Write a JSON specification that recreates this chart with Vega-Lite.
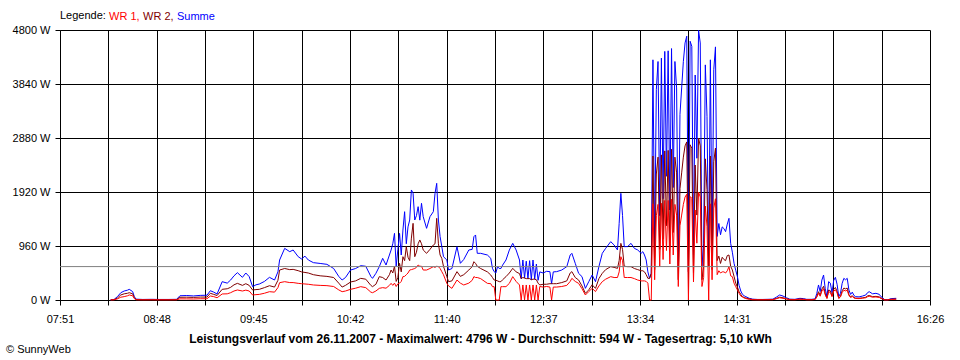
{
 "$schema": "https://vega.github.io/schema/vega-lite/v6.json",
 "width": 870,
 "height": 270,
 "autosize": {"type": "none"},
 "padding": {"left": 60, "top": 30, "right": 30, "bottom": 60},
 "background": "#ffffff",
 "config": {
  "font": "Liberation Sans",
  "view": {"stroke": null},
  "axis": {"labelFont": "Liberation Sans", "labelFontSize": 11, "labelColor": "#000000", "domainColor": "#000000", "tickColor": "#000000", "gridColor": "#000000", "gridOpacity": 1, "gridWidth": 1, "domainWidth": 1, "tickWidth": 1, "tickSize": 5, "zindex": 1, "labelFlush": false, "labelOverlap": false, "labelBound": false}
 },
 "title": {"text": "© SunnyWeb", "orient": "bottom", "anchor": "start", "frame": "group", "font": "Liberation Sans", "fontSize": 11, "fontWeight": "normal", "color": "#000000", "offset": 0, "dx": -54, "baseline": "top"},
 "layer": [
  {
   "data": {
    "format": {"parse": {"zeit": "date:'%H:%M'"}},
    "values": [
     {"zeit":"08:21","summe":5,"wr2":3,"wr1":2},
     {"zeit":"08:23","summe":10,"wr2":6,"wr1":4},
     {"zeit":"08:25","summe":60,"wr2":35,"wr1":20},
     {"zeit":"08:27","summe":130,"wr2":90,"wr1":50},
     {"zeit":"08:29","summe":160,"wr2":110,"wr1":60},
     {"zeit":"08:31","summe":175,"wr2":120,"wr1":75},
     {"zeit":"08:32","summe":190,"wr2":130,"wr1":90},
     {"zeit":"08:34","summe":150,"wr2":110,"wr1":75},
     {"zeit":"08:35","summe":60,"wr2":40,"wr1":25},
     {"zeit":"08:36","summe":15,"wr2":8,"wr1":5},
     {"zeit":"08:40","summe":10,"wr2":5,"wr1":3},
     {"zeit":"08:45","summe":12,"wr2":6,"wr1":4},
     {"zeit":"08:50","summe":10,"wr2":5,"wr1":3},
     {"zeit":"08:55","summe":10,"wr2":5,"wr1":3},
     {"zeit":"09:00","summe":12,"wr2":6,"wr1":4},
     {"zeit":"09:02","summe":75,"wr2":48,"wr1":20},
     {"zeit":"09:06","summe":80,"wr2":50,"wr1":20},
     {"zeit":"09:10","summe":72,"wr2":46,"wr1":18},
     {"zeit":"09:14","summe":82,"wr2":52,"wr1":22},
     {"zeit":"09:18","summe":85,"wr2":52,"wr1":22},
     {"zeit":"09:20","summe":165,"wr2":119,"wr1":71},
     {"zeit":"09:22","summe":140,"wr2":100,"wr1":60},
     {"zeit":"09:24","summe":107,"wr2":80,"wr1":40},
     {"zeit":"09:27","summe":326,"wr2":190,"wr1":107},
     {"zeit":"09:30","summe":300,"wr2":200,"wr1":110},
     {"zeit":"09:32","summe":355,"wr2":225,"wr1":130},
     {"zeit":"09:34","summe":430,"wr2":270,"wr1":160},
     {"zeit":"09:36","summe":486,"wr2":296,"wr1":178},
     {"zeit":"09:39","summe":403,"wr2":260,"wr1":160},
     {"zeit":"09:41","summe":480,"wr2":290,"wr1":175},
     {"zeit":"09:43","summe":415,"wr2":260,"wr1":160},
     {"zeit":"09:45","summe":237,"wr2":178,"wr1":89},
     {"zeit":"09:47","summe":270,"wr2":185,"wr1":95},
     {"zeit":"09:49","summe":284,"wr2":190,"wr1":100},
     {"zeit":"09:52","summe":330,"wr2":220,"wr1":120},
     {"zeit":"09:55","summe":403,"wr2":254,"wr1":148},
     {"zeit":"09:58","summe":355,"wr2":230,"wr1":140},
     {"zeit":"10:00","summe":500,"wr2":350,"wr1":220},
     {"zeit":"10:01","summe":711,"wr2":533,"wr1":308},
     {"zeit":"10:04","summe":918,"wr2":560,"wr1":326},
     {"zeit":"10:07","summe":859,"wr2":540,"wr1":310},
     {"zeit":"10:09","summe":889,"wr2":545,"wr1":310},
     {"zeit":"10:12","summe":770,"wr2":521,"wr1":296},
     {"zeit":"10:14","summe":730,"wr2":500,"wr1":290},
     {"zeit":"10:16","summe":780,"wr2":490,"wr1":285},
     {"zeit":"10:18","summe":711,"wr2":480,"wr1":280},
     {"zeit":"10:21","summe":664,"wr2":450,"wr1":267},
     {"zeit":"10:25","summe":650,"wr2":430,"wr1":260},
     {"zeit":"10:29","summe":634,"wr2":420,"wr1":255},
     {"zeit":"10:33","summe":560,"wr2":400,"wr1":240},
     {"zeit":"10:36","summe":420,"wr2":300,"wr1":180},
     {"zeit":"10:38","summe":355,"wr2":230,"wr1":148},
     {"zeit":"10:40","summe":400,"wr2":260,"wr1":160},
     {"zeit":"10:43","summe":533,"wr2":320,"wr1":190},
     {"zeit":"10:46","summe":560,"wr2":340,"wr1":210},
     {"zeit":"10:49","summe":610,"wr2":385,"wr1":237},
     {"zeit":"10:52","summe":600,"wr2":370,"wr1":220},
     {"zeit":"10:55","summe":420,"wr2":260,"wr1":140},
     {"zeit":"10:56","summe":385,"wr2":237,"wr1":130},
     {"zeit":"10:58","summe":474,"wr2":280,"wr1":160},
     {"zeit":"11:00","summe":593,"wr2":415,"wr1":207},
     {"zeit":"11:02","summe":741,"wr2":400,"wr1":220},
     {"zeit":"11:04","summe":622,"wr2":355,"wr1":210},
     {"zeit":"11:06","summe":800,"wr2":450,"wr1":260},
     {"zeit":"11:07","summe":889,"wr2":533,"wr1":296},
     {"zeit":"11:08","summe":1000,"wr2":480,"wr1":260},
     {"zeit":"11:09","summe":1185,"wr2":600,"wr1":300},
     {"zeit":"11:10","summe":600,"wr2":330,"wr1":240},
     {"zeit":"11:11","summe":900,"wr2":400,"wr1":288},
     {"zeit":"11:12","summe":1185,"wr2":652,"wr1":300},
     {"zeit":"11:13","summe":800,"wr2":500,"wr1":330},
     {"zeit":"11:14","summe":1244,"wr2":770,"wr1":415},
     {"zeit":"11:15","summe":1570,"wr2":700,"wr1":420},
     {"zeit":"11:16","summe":1000,"wr2":948,"wr1":450},
     {"zeit":"11:17","summe":1300,"wr2":760,"wr1":480},
     {"zeit":"11:18","summe":1422,"wr2":700,"wr1":533},
     {"zeit":"11:19","summe":1956,"wr2":1100,"wr1":540},
     {"zeit":"11:20","summe":1900,"wr2":1363,"wr1":550},
     {"zeit":"11:21","summe":1422,"wr2":770,"wr1":560},
     {"zeit":"11:22","summe":1500,"wr2":850,"wr1":580},
     {"zeit":"11:23","summe":1659,"wr2":1000,"wr1":622},
     {"zeit":"11:24","summe":1420,"wr2":1067,"wr1":600},
     {"zeit":"11:25","summe":1719,"wr2":1000,"wr1":600},
     {"zeit":"11:26","summe":1481,"wr2":889,"wr1":533},
     {"zeit":"11:28","summe":1274,"wr2":830,"wr1":533},
     {"zeit":"11:30","summe":1481,"wr2":900,"wr1":560},
     {"zeit":"11:32","summe":1570,"wr2":978,"wr1":593},
     {"zeit":"11:33","summe":1896,"wr2":1000,"wr1":580},
     {"zeit":"11:34","summe":2074,"wr2":1452,"wr1":600},
     {"zeit":"11:35","summe":1422,"wr2":1000,"wr1":593},
     {"zeit":"11:36","summe":1126,"wr2":800,"wr1":560},
     {"zeit":"11:37","summe":950,"wr2":741,"wr1":504},
     {"zeit":"11:38","summe":770,"wr2":600,"wr1":450},
     {"zeit":"11:40","summe":711,"wr2":415,"wr1":296},
     {"zeit":"11:41","summe":533,"wr2":326,"wr1":250},
     {"zeit":"11:43","summe":560,"wr2":340,"wr1":207},
     {"zeit":"11:46","summe":948,"wr2":504,"wr1":355},
     {"zeit":"11:48","summe":652,"wr2":420,"wr1":300},
     {"zeit":"11:50","summe":720,"wr2":450,"wr1":267},
     {"zeit":"11:53","summe":889,"wr2":533,"wr1":300},
     {"zeit":"11:55","summe":900,"wr2":593,"wr1":350},
     {"zeit":"11:56","summe":1126,"wr2":681,"wr1":415},
     {"zeit":"11:57","summe":1156,"wr2":650,"wr1":400},
     {"zeit":"11:58","summe":830,"wr2":600,"wr1":400},
     {"zeit":"12:00","summe":830,"wr2":560,"wr1":380},
     {"zeit":"12:04","summe":800,"wr2":500,"wr1":296},
     {"zeit":"12:06","summe":741,"wr2":444,"wr1":290},
     {"zeit":"12:07","summe":563,"wr2":400,"wr1":237},
     {"zeit":"12:08","summe":504,"wr2":355,"wr1":237},
     {"zeit":"12:09","summe":480,"wr2":350,"wr1":0},
     {"zeit":"12:10","summe":593,"wr2":340,"wr1":0},
     {"zeit":"12:11","summe":560,"wr2":326,"wr1":0},
     {"zeit":"12:12","summe":560,"wr2":326,"wr1":237},
     {"zeit":"12:13","summe":620,"wr2":360,"wr1":237},
     {"zeit":"12:15","summe":711,"wr2":415,"wr1":237},
     {"zeit":"12:17","summe":889,"wr2":480,"wr1":296},
     {"zeit":"12:19","summe":1007,"wr2":563,"wr1":415},
     {"zeit":"12:21","summe":889,"wr2":500,"wr1":330},
     {"zeit":"12:23","summe":711,"wr2":470,"wr1":267},
     {"zeit":"12:24","summe":380,"wr2":380,"wr1":0},
     {"zeit":"12:25","summe":711,"wr2":400,"wr1":267},
     {"zeit":"12:26","summe":390,"wr2":390,"wr1":0},
     {"zeit":"12:27","summe":690,"wr2":380,"wr1":267},
     {"zeit":"12:28","summe":380,"wr2":380,"wr1":0},
     {"zeit":"12:29","summe":700,"wr2":380,"wr1":267},
     {"zeit":"12:30","summe":360,"wr2":360,"wr1":0},
     {"zeit":"12:31","summe":711,"wr2":370,"wr1":267},
     {"zeit":"12:32","summe":370,"wr2":370,"wr1":0},
     {"zeit":"12:33","summe":640,"wr2":360,"wr1":267},
     {"zeit":"12:34","summe":350,"wr2":300,"wr1":0},
     {"zeit":"12:35","summe":500,"wr2":267,"wr1":240},
     {"zeit":"12:37","summe":480,"wr2":280,"wr1":230},
     {"zeit":"12:39","summe":510,"wr2":280,"wr1":240},
     {"zeit":"12:41","summe":504,"wr2":290,"wr1":230},
     {"zeit":"12:42","summe":290,"wr2":290,"wr1":0},
     {"zeit":"12:43","summe":500,"wr2":290,"wr1":230},
     {"zeit":"12:45","summe":504,"wr2":290,"wr1":230},
     {"zeit":"12:48","summe":533,"wr2":310,"wr1":240},
     {"zeit":"12:51","summe":593,"wr2":340,"wr1":260},
     {"zeit":"12:53","summe":800,"wr2":480,"wr1":330},
     {"zeit":"12:54","summe":830,"wr2":504,"wr1":385},
     {"zeit":"12:56","summe":652,"wr2":400,"wr1":330},
     {"zeit":"12:58","summe":474,"wr2":355,"wr1":296},
     {"zeit":"13:00","summe":415,"wr2":250,"wr1":200},
     {"zeit":"13:02","summe":207,"wr2":119,"wr1":89},
     {"zeit":"13:04","summe":326,"wr2":180,"wr1":150},
     {"zeit":"13:06","summe":444,"wr2":270,"wr1":207},
     {"zeit":"13:08","summe":326,"wr2":207,"wr1":150},
     {"zeit":"13:10","summe":593,"wr2":380,"wr1":250},
     {"zeit":"13:12","summe":830,"wr2":474,"wr1":326},
     {"zeit":"13:14","summe":918,"wr2":540,"wr1":370},
     {"zeit":"13:17","summe":1037,"wr2":593,"wr1":415},
     {"zeit":"13:19","summe":978,"wr2":580,"wr1":400},
     {"zeit":"13:21","summe":889,"wr2":563,"wr1":400},
     {"zeit":"13:22","summe":1363,"wr2":700,"wr1":500},
     {"zeit":"13:23","summe":1896,"wr2":1007,"wr1":770},
     {"zeit":"13:24","summe":1500,"wr2":900,"wr1":700},
     {"zeit":"13:25","summe":948,"wr2":600,"wr1":400},
     {"zeit":"13:27","summe":950,"wr2":593,"wr1":400},
     {"zeit":"13:29","summe":1007,"wr2":593,"wr1":400},
     {"zeit":"13:31","summe":918,"wr2":560,"wr1":380},
     {"zeit":"13:33","summe":889,"wr2":540,"wr1":355},
     {"zeit":"13:35","summe":830,"wr2":520,"wr1":340},
     {"zeit":"13:36","summe":859,"wr2":520,"wr1":340},
     {"zeit":"13:37","summe":800,"wr2":500,"wr1":340},
     {"zeit":"13:38","summe":711,"wr2":450,"wr1":330},
     {"zeit":"13:39","summe":500,"wr2":385,"wr1":300},
     {"zeit":"13:40","summe":385,"wr2":385,"wr1":0},
     {"zeit":"13:41","summe":474,"wr2":474,"wr1":0},
     {"zeit":"13:42","summe":4270,"wr2":2560,"wr1":1710},
     {"zeit":"13:43","summe":900,"wr2":540,"wr1":360},
     {"zeit":"13:44","summe":3740,"wr2":2240,"wr1":1500},
     {"zeit":"13:45","summe":4240,"wr2":2540,"wr1":1700},
     {"zeit":"13:46","summe":1500,"wr2":900,"wr1":600},
     {"zeit":"13:47","summe":4300,"wr2":2580,"wr1":1720},
     {"zeit":"13:48","summe":1800,"wr2":1080,"wr1":720},
     {"zeit":"13:49","summe":4420,"wr2":2650,"wr1":1770},
     {"zeit":"13:50","summe":2200,"wr2":1320,"wr1":880},
     {"zeit":"13:51","summe":4430,"wr2":2660,"wr1":1770},
     {"zeit":"13:52","summe":1600,"wr2":960,"wr1":640},
     {"zeit":"13:53","summe":4470,"wr2":2680,"wr1":1790},
     {"zeit":"13:54","summe":2000,"wr2":1200,"wr1":800},
     {"zeit":"13:55","summe":4240,"wr2":2540,"wr1":1700},
     {"zeit":"13:56","summe":3770,"wr2":2260,"wr1":1510},
     {"zeit":"13:57","summe":600,"wr2":360,"wr1":240},
     {"zeit":"13:58","summe":3300,"wr2":1980,"wr1":1320},
     {"zeit":"13:59","summe":3770,"wr2":2260,"wr1":1510},
     {"zeit":"14:00","summe":4240,"wr2":2540,"wr1":1700},
     {"zeit":"14:01","summe":4570,"wr2":2740,"wr1":1830},
     {"zeit":"14:02","summe":4690,"wr2":2810,"wr1":1880},
     {"zeit":"14:03","summe":500,"wr2":500,"wr1":0},
     {"zeit":"14:04","summe":4600,"wr2":2760,"wr1":1840},
     {"zeit":"14:05","summe":4510,"wr2":2700,"wr1":1810},
     {"zeit":"14:06","summe":800,"wr2":480,"wr1":320},
     {"zeit":"14:07","summe":4000,"wr2":2400,"wr1":1600},
     {"zeit":"14:08","summe":2520,"wr2":1510,"wr1":1010},
     {"zeit":"14:09","summe":4796,"wr2":2880,"wr1":1916},
     {"zeit":"14:10","summe":4570,"wr2":2740,"wr1":1830},
     {"zeit":"14:11","summe":600,"wr2":360,"wr1":240},
     {"zeit":"14:12","summe":1000,"wr2":600,"wr1":400},
     {"zeit":"14:13","summe":4180,"wr2":2510,"wr1":1670},
     {"zeit":"14:14","summe":3265,"wr2":1960,"wr1":1305},
     {"zeit":"14:15","summe":600,"wr2":600,"wr1":0},
     {"zeit":"14:16","summe":4270,"wr2":2560,"wr1":1710},
     {"zeit":"14:17","summe":900,"wr2":540,"wr1":360},
     {"zeit":"14:18","summe":4094,"wr2":2460,"wr1":1634},
     {"zeit":"14:19","summe":4500,"wr2":2700,"wr1":1800},
     {"zeit":"14:20","summe":1130,"wr2":700,"wr1":450},
     {"zeit":"14:21","summe":1360,"wr2":780,"wr1":520},
     {"zeit":"14:22","summe":1160,"wr2":650,"wr1":480},
     {"zeit":"14:23","summe":1300,"wr2":760,"wr1":500},
     {"zeit":"14:24","summe":1270,"wr2":720,"wr1":500},
     {"zeit":"14:25","summe":1215,"wr2":700,"wr1":480},
     {"zeit":"14:26","summe":1350,"wr2":790,"wr1":520},
     {"zeit":"14:27","summe":1452,"wr2":800,"wr1":593},
     {"zeit":"14:28","summe":1007,"wr2":600,"wr1":430},
     {"zeit":"14:29","summe":850,"wr2":533,"wr1":415},
     {"zeit":"14:30","summe":652,"wr2":420,"wr1":300},
     {"zeit":"14:31","summe":530,"wr2":300,"wr1":237},
     {"zeit":"14:32","summe":415,"wr2":230,"wr1":180},
     {"zeit":"14:33","summe":260,"wr2":148,"wr1":119},
     {"zeit":"14:34","summe":160,"wr2":100,"wr1":70},
     {"zeit":"14:35","summe":100,"wr2":59,"wr1":53},
     {"zeit":"14:36","summe":75,"wr2":45,"wr1":35},
     {"zeit":"14:37","summe":59,"wr2":35,"wr1":25},
     {"zeit":"14:39","summe":30,"wr2":20,"wr1":12},
     {"zeit":"14:41","summe":15,"wr2":10,"wr1":5},
     {"zeit":"14:44","summe":10,"wr2":6,"wr1":4},
     {"zeit":"14:47","summe":10,"wr2":6,"wr1":4},
     {"zeit":"14:50","summe":12,"wr2":7,"wr1":5},
     {"zeit":"14:53","summe":15,"wr2":8,"wr1":6},
     {"zeit":"14:55","summe":50,"wr2":28,"wr1":22},
     {"zeit":"14:57","summe":89,"wr2":50,"wr1":40},
     {"zeit":"14:59","summe":70,"wr2":40,"wr1":30},
     {"zeit":"15:01","summe":40,"wr2":22,"wr1":18},
     {"zeit":"15:03","summe":15,"wr2":8,"wr1":6},
     {"zeit":"15:06","summe":12,"wr2":7,"wr1":5},
     {"zeit":"15:09","summe":30,"wr2":17,"wr1":13},
     {"zeit":"15:11","summe":25,"wr2":14,"wr1":11},
     {"zeit":"15:13","summe":12,"wr2":7,"wr1":5},
     {"zeit":"15:16","summe":12,"wr2":7,"wr1":5},
     {"zeit":"15:18","summe":20,"wr2":11,"wr1":9},
     {"zeit":"15:19","summe":119,"wr2":65,"wr1":54},
     {"zeit":"15:20","summe":267,"wr2":147,"wr1":120},
     {"zeit":"15:21","summe":150,"wr2":83,"wr1":67},
     {"zeit":"15:22","summe":355,"wr2":195,"wr1":160},
     {"zeit":"15:23","summe":444,"wr2":244,"wr1":200},
     {"zeit":"15:24","summe":200,"wr2":110,"wr1":90},
     {"zeit":"15:25","summe":59,"wr2":32,"wr1":27},
     {"zeit":"15:26","summe":326,"wr2":178,"wr1":148},
     {"zeit":"15:27","summe":300,"wr2":165,"wr1":135},
     {"zeit":"15:28","summe":130,"wr2":72,"wr1":58},
     {"zeit":"15:29","summe":350,"wr2":192,"wr1":158},
     {"zeit":"15:30","summe":403,"wr2":222,"wr1":181},
     {"zeit":"15:31","summe":280,"wr2":154,"wr1":126},
     {"zeit":"15:32","summe":59,"wr2":32,"wr1":27},
     {"zeit":"15:33","summe":119,"wr2":65,"wr1":54},
     {"zeit":"15:34","summe":296,"wr2":163,"wr1":133},
     {"zeit":"15:35","summe":385,"wr2":212,"wr1":173},
     {"zeit":"15:36","summe":360,"wr2":198,"wr1":162},
     {"zeit":"15:37","summe":385,"wr2":212,"wr1":173},
     {"zeit":"15:38","summe":178,"wr2":98,"wr1":80},
     {"zeit":"15:39","summe":100,"wr2":55,"wr1":45},
     {"zeit":"15:40","summe":140,"wr2":77,"wr1":63},
     {"zeit":"15:41","summe":80,"wr2":44,"wr1":36},
     {"zeit":"15:42","summe":59,"wr2":32,"wr1":27},
     {"zeit":"15:44","summe":55,"wr2":30,"wr1":25},
     {"zeit":"15:46","summe":70,"wr2":38,"wr1":32},
     {"zeit":"15:48","summe":89,"wr2":49,"wr1":40},
     {"zeit":"15:49","summe":130,"wr2":72,"wr1":58},
     {"zeit":"15:50","summe":148,"wr2":81,"wr1":67},
     {"zeit":"15:52","summe":110,"wr2":60,"wr1":50},
     {"zeit":"15:54","summe":119,"wr2":65,"wr1":54},
     {"zeit":"15:56","summe":100,"wr2":55,"wr1":45},
     {"zeit":"15:57","summe":59,"wr2":32,"wr1":27},
     {"zeit":"15:58","summe":40,"wr2":22,"wr1":18},
     {"zeit":"15:59","summe":5,"wr2":3,"wr1":2},
     {"zeit":"16:01","summe":5,"wr2":3,"wr1":2},
     {"zeit":"16:03","summe":25,"wr2":14,"wr1":11},
     {"zeit":"16:06","summe":30,"wr2":16,"wr1":14}
    ]
   },
   "transform": [{"fold": ["summe", "wr2", "wr1"], "as": ["serie", "watt"]}],
   "encoding": {
    "x": {
     "field": "zeit", "type": "temporal",
     "scale": {"domain": [{"year":1900,"month":1,"date":1,"hours":7,"minutes":51}, {"year":1900,"month":1,"date":1,"hours":16,"minutes":26}]},
     "axis": {
      "values": [
       {"year":1900,"month":1,"date":1,"hours":7,"minutes":51,"seconds":0,"milliseconds":0},
       {"year":1900,"month":1,"date":1,"hours":8,"minutes":19,"seconds":36,"milliseconds":667},
       {"year":1900,"month":1,"date":1,"hours":8,"minutes":48,"seconds":13,"milliseconds":333},
       {"year":1900,"month":1,"date":1,"hours":9,"minutes":16,"seconds":50,"milliseconds":0},
       {"year":1900,"month":1,"date":1,"hours":9,"minutes":45,"seconds":26,"milliseconds":667},
       {"year":1900,"month":1,"date":1,"hours":10,"minutes":14,"seconds":3,"milliseconds":333},
       {"year":1900,"month":1,"date":1,"hours":10,"minutes":42,"seconds":40,"milliseconds":0},
       {"year":1900,"month":1,"date":1,"hours":11,"minutes":11,"seconds":16,"milliseconds":667},
       {"year":1900,"month":1,"date":1,"hours":11,"minutes":39,"seconds":53,"milliseconds":333},
       {"year":1900,"month":1,"date":1,"hours":12,"minutes":8,"seconds":30,"milliseconds":0},
       {"year":1900,"month":1,"date":1,"hours":12,"minutes":37,"seconds":6,"milliseconds":667},
       {"year":1900,"month":1,"date":1,"hours":13,"minutes":5,"seconds":43,"milliseconds":333},
       {"year":1900,"month":1,"date":1,"hours":13,"minutes":34,"seconds":20,"milliseconds":0},
       {"year":1900,"month":1,"date":1,"hours":14,"minutes":2,"seconds":56,"milliseconds":667},
       {"year":1900,"month":1,"date":1,"hours":14,"minutes":31,"seconds":33,"milliseconds":333},
       {"year":1900,"month":1,"date":1,"hours":15,"minutes":0,"seconds":10,"milliseconds":0},
       {"year":1900,"month":1,"date":1,"hours":15,"minutes":28,"seconds":46,"milliseconds":667},
       {"year":1900,"month":1,"date":1,"hours":15,"minutes":57,"seconds":23,"milliseconds":333},
       {"year":1900,"month":1,"date":1,"hours":16,"minutes":26,"seconds":0,"milliseconds":0}
      ],
      "labelExpr": "['07:51','','08:48','','09:45','','10:42','','11:40','','12:37','','13:34','','14:31','','15:28','','16:26'][round((datum.value - datetime(1900,0,1,7,51,0,0)) / 1716666.667)]",
      "grid": true,
      "labelPadding": 8,
      "labelAngle": 0,
      "title": "Leistungsverlauf vom 26.11.2007 - Maximalwert: 4796 W - Durchschnitt: 594 W - Tagesertrag: 5,10 kWh",
      "titleFont": "Liberation Sans",
      "titleFontSize": 12,
      "titleFontWeight": "bold",
      "titleColor": "#000000",
      "titleX": 420,
      "titleY": 42,
      "titleAlign": "center",
      "titleAnchor": null,
      "titleBaseline": "alphabetic"
     }
    },
    "y": {
     "field": "watt", "type": "quantitative",
     "scale": {"domain": [0, 4800], "nice": false},
     "axis": {"values": [0, 960, 1920, 2880, 3840, 4800], "labelExpr": "datum.value + ' W'", "grid": true, "title": null, "labelPadding": 5}
    },
    "color": {
     "field": "serie", "type": "nominal",
     "scale": {"domain": ["wr1", "wr2", "summe"], "range": ["#ff0000", "#800000", "#0000ff"]},
     "legend": {
      "orient": "none", "legendX": 0, "legendY": -19, "direction": "horizontal",
      "title": "Legende:", "titleOrient": "left", "titleFont": "Liberation Sans", "titleFontSize": 11, "titleFontWeight": "normal", "titleColor": "#000000", "titlePadding": 3,
      "labelFont": "Liberation Sans", "labelFontSize": 11, "labelOffset": -11, "columnPadding": 3, "gridAlign": "none",
      "symbolSize": 0.001, "symbolOpacity": 0, "symbolStrokeWidth": 0, "symbolType": "circle",
      "labelExpr": "datum.value === 'wr1' ? 'WR 1,' : datum.value === 'wr2' ? 'WR 2,' : 'Summe'",
      "labelColor": {"expr": "datum.value === 'wr1' ? '#ff0000' : datum.value === 'wr2' ? '#800000' : '#0000ff'"}
     }
    }
   },
   "layer": [
    {"transform": [{"filter": "datum.serie === 'summe'"}], "mark": {"type": "line", "strokeWidth": 1, "interpolate": "linear"}},
    {"transform": [{"filter": "datum.serie === 'wr2'"}], "mark": {"type": "line", "strokeWidth": 1, "interpolate": "linear"}},
    {"transform": [{"filter": "datum.serie === 'wr1'"}], "mark": {"type": "line", "strokeWidth": 1, "interpolate": "linear"}}
   ]
  },
  {
   "data": {"values": [{"durchschnitt": 594}]},
   "mark": {"type": "rule", "color": "#808080", "strokeWidth": 1},
   "encoding": {"y": {"field": "durchschnitt", "type": "quantitative", "scale": {"domain": [0, 4800], "nice": false}, "axis": {"values": [0, 960, 1920, 2880, 3840, 4800], "labelExpr": "datum.value + ' W'", "grid": true, "title": null, "labelPadding": 5}}}
  }
 ]
}
